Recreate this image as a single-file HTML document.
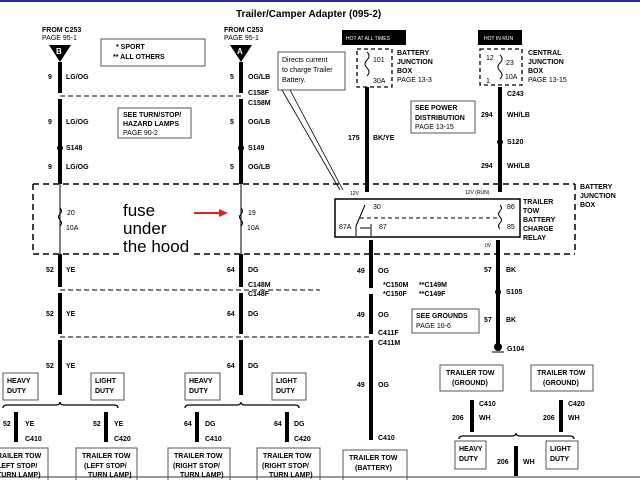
<!DOCTYPE html>
<html><head><meta charset="utf-8"><style>
html,body{margin:0;padding:0;background:#fff;}
svg{display:block;}
text{font-family:"Liberation Sans",Arial,sans-serif;fill:#000;}
.b{font-weight:bold;font-size:7px;}
.n{font-size:7px;}
.t{font-size:8px;}
</style></head><body>
<svg width="640" height="480" viewBox="0 0 640 480" xmlns="http://www.w3.org/2000/svg">
<rect width="640" height="480" fill="#fff"/>
<line x1="0" y1="1" x2="640" y2="1" stroke="#2a2a9a" stroke-width="2"/>
<line x1="0" y1="477" x2="640" y2="477" stroke="#999" stroke-width="2"/>
<text x="236" y="17" style="font-size:10px;font-weight:bold">Trailer/Camper Adapter (095-2)</text>

<text class="b" x="42" y="32">FROM C253</text><text class="n" x="42" y="40">PAGE 95-1</text>
<text class="b" x="224" y="32">FROM C253</text><text class="n" x="224" y="40">PAGE 95-1</text>
<polygon points="49,45 71,45 60,62" fill="#000"/><text x="56" y="54" style="font-size:8px;fill:#fff;font-weight:bold">B</text>
<polygon points="230,45 252,45 241,62" fill="#000"/><text x="237" y="54" style="font-size:8px;fill:#fff;font-weight:bold">A</text>

<rect x="101" y="39" width="104" height="27" fill="none" stroke="#555"/>
<text class="b" x="116" y="49">* SPORT</text><text class="b" x="113" y="59">** ALL OTHERS</text>
<rect x="118" y="108" width="73" height="30" fill="none" stroke="#555"/>
<text class="b" x="123" y="117">SEE TURN/STOP/</text><text class="b" x="123" y="126">HAZARD LAMPS</text><text class="n" x="123" y="135">PAGE 90-2</text>

<g stroke="#000" stroke-width="4">
<line x1="60" y1="62" x2="60" y2="93"/><line x1="60" y1="99" x2="60" y2="184"/>
<line x1="241" y1="62" x2="241" y2="93"/><line x1="241" y1="99" x2="241" y2="184"/>
</g>
<g stroke="#000" stroke-width="1">
<line x1="60" y1="184" x2="60" y2="254"/><line x1="241" y1="184" x2="241" y2="254"/>
</g>
<line x1="60" y1="96" x2="241" y2="96" stroke="#000" stroke-dasharray="5,3"/>
<circle cx="60" cy="148" r="3"/><circle cx="241" cy="148" r="3"/>
<text class="b" x="48" y="79">9</text><text class="b" x="66" y="79">LG/OG</text>
<text class="b" x="48" y="124">9</text><text class="b" x="66" y="124">LG/OG</text>
<text class="b" x="48" y="169">9</text><text class="b" x="66" y="169">LG/OG</text>
<text class="b" x="66" y="150">S148</text>
<text class="b" x="230" y="79">5</text><text class="b" x="248" y="79">OG/LB</text>
<text class="b" x="230" y="124">5</text><text class="b" x="248" y="124">OG/LB</text>
<text class="b" x="230" y="169">5</text><text class="b" x="248" y="169">OG/LB</text>
<text class="b" x="248" y="150">S149</text>
<text class="b" x="248" y="95">C158F</text><text class="b" x="248" y="105">C158M</text>
<path d="M60,208 q3,3 0,6 q-3,3 0,6 q3,3 0,6" fill="none" stroke="#000"/>
<path d="M241,208 q3,3 0,6 q-3,3 0,6 q3,3 0,6" fill="none" stroke="#000"/>
<text class="n" x="67" y="215">20</text><text class="n" x="66" y="230">10A</text>
<text class="n" x="248" y="215">19</text><text class="n" x="247" y="230">10A</text>
<text x="123" y="216" style="font-size:17px">fuse</text>
<text x="123" y="234" style="font-size:17px">under</text>
<text x="123" y="252" style="font-size:17px">the hood</text>
<line x1="194" y1="213" x2="222" y2="213" stroke="#e02020" stroke-width="2"/>
<polygon points="228,213 219,209 219,217" fill="#e02020"/>

<g stroke="#000" stroke-dasharray="6,4" stroke-width="1.5" fill="none">
<line x1="33" y1="184" x2="575" y2="184"/>
<line x1="33" y1="184" x2="33" y2="254"/>
<line x1="575" y1="184" x2="575" y2="254"/>
<line x1="33" y1="254" x2="120" y2="254"/>
<line x1="194" y1="254" x2="575" y2="254"/>
</g>
<text class="b" x="580" y="189">BATTERY</text><text class="b" x="580" y="198">JUNCTION</text><text class="b" x="580" y="207">BOX</text>

<rect x="342" y="30" width="64" height="15" fill="#000"/><text x="346" y="40" style="font-size:5px;fill:#fff">HOT AT ALL TIMES</text>
<rect x="478" y="30" width="44" height="15" fill="#000"/><text x="484" y="40" style="font-size:5px;fill:#fff">HOT IN RUN</text>
<rect x="357" y="49" width="35" height="38" fill="none" stroke="#000" stroke-dasharray="4,3" stroke-width="1.3"/>
<path d="M367,52 q4,4 0,8 q-4,4 0,8 q4,4 0,8" fill="none" stroke="#000"/>
<text class="n" x="373" y="62">101</text><text class="n" x="373" y="83">30A</text>
<text class="b" x="397" y="55">BATTERY</text><text class="b" x="397" y="64">JUNCTION</text><text class="b" x="397" y="73">BOX</text><text class="n" x="397" y="82">PAGE 13-3</text>
<rect x="480" y="49" width="42" height="36" fill="none" stroke="#000" stroke-dasharray="4,3" stroke-width="1.3"/>
<path d="M500,55 q4,4 0,8 q-4,4 0,8 q4,4 0,8" fill="none" stroke="#000"/>
<text class="n" x="486" y="60">12</text><text class="n" x="506" y="65">23</text><text class="n" x="505" y="79">10A</text><text class="n" x="486" y="83">1</text>
<text class="b" x="528" y="55">CENTRAL</text><text class="b" x="528" y="64">JUNCTION</text><text class="b" x="528" y="73">BOX</text><text class="n" x="528" y="82">PAGE 13-15</text>

<rect x="278" y="52" width="67" height="38" fill="none" stroke="#555"/>
<text class="n" x="282" y="62">Directs current</text><text class="n" x="282" y="72">to charge Trailer</text><text class="n" x="282" y="82">Battery.</text>
<line x1="282" y1="90" x2="340" y2="190" stroke="#000" stroke-width="0.8"/>
<line x1="290" y1="90" x2="343" y2="190" stroke="#000" stroke-width="0.8"/>

<rect x="411" y="101" width="64" height="32" fill="none" stroke="#555"/>
<text class="b" x="415" y="110">SEE POWER</text><text class="b" x="415" y="120">DISTRIBUTION</text><text class="n" x="415" y="129">PAGE 13-15</text>

<g stroke="#000" stroke-width="4">
<line x1="367" y1="87" x2="367" y2="192"/>
<line x1="500" y1="87" x2="500" y2="192"/>
<line x1="371" y1="240" x2="371" y2="288"/><line x1="371" y1="294" x2="371" y2="334"/><line x1="371" y1="340" x2="371" y2="440"/>
<line x1="498" y1="240" x2="498" y2="346"/>
</g>
<circle cx="500" cy="142" r="3"/>
<text class="b" x="348" y="140">175</text><text class="b" x="373" y="140">BK/YE</text>
<text class="b" x="507" y="96">C243</text>
<text class="b" x="481" y="117">294</text><text class="b" x="507" y="117">WH/LB</text>
<text class="b" x="507" y="144">S120</text>
<text class="b" x="481" y="168">294</text><text class="b" x="507" y="168">WH/LB</text>
<text x="350" y="195" style="font-size:5px">12V</text>
<text x="465" y="194" style="font-size:5px">12V (RUN)</text>

<rect x="335" y="199" width="185" height="38" fill="none" stroke="#000" stroke-width="1.5"/>
<line x1="360" y1="218" x2="500" y2="218" stroke="#000" stroke-dasharray="4,3"/>
<line x1="365" y1="205" x2="356" y2="226" stroke="#000"/>
<line x1="356" y1="226" x2="356" y2="236" stroke="#000"/>
<line x1="360" y1="228" x2="370" y2="228" stroke="#000"/>
<line x1="371" y1="224" x2="371" y2="236" stroke="#000"/>
<path d="M500,205 q3,3 0,6 q-3,3 0,6 q3,3 0,6 q-3,3 0,6" fill="none" stroke="#000"/>
<text class="n" x="373" y="209">30</text><text class="n" x="379" y="229">87</text><text class="n" x="339" y="229">87A</text>
<text class="n" x="507" y="209">86</text><text class="n" x="507" y="229">85</text>
<text x="485" y="247" style="font-size:5px">0V</text>
<text class="b" x="523" y="204">TRAILER</text><text class="b" x="523" y="213">TOW</text><text class="b" x="523" y="222">BATTERY</text><text class="b" x="523" y="231">CHARGE</text><text class="b" x="523" y="240">RELAY</text>

<g stroke="#000" stroke-width="4">
<line x1="60" y1="254" x2="60" y2="287"/><line x1="60" y1="293" x2="60" y2="334"/><line x1="60" y1="340" x2="60" y2="395"/>
<line x1="241" y1="254" x2="241" y2="287"/><line x1="241" y1="293" x2="241" y2="334"/><line x1="241" y1="340" x2="241" y2="395"/>
</g>
<g stroke="#000" stroke-dasharray="5,3">
<line x1="60" y1="290" x2="320" y2="290"/>
<line x1="60" y1="337" x2="371" y2="337"/>
</g>
<text class="b" x="46" y="272">52</text><text class="b" x="66" y="272">YE</text>
<text class="b" x="46" y="316">52</text><text class="b" x="66" y="316">YE</text>
<text class="b" x="46" y="368">52</text><text class="b" x="66" y="368">YE</text>
<text class="b" x="227" y="272">64</text><text class="b" x="248" y="272">DG</text>
<text class="b" x="227" y="316">64</text><text class="b" x="248" y="316">DG</text>
<text class="b" x="227" y="368">64</text><text class="b" x="248" y="368">DG</text>
<text class="b" x="248" y="287">C148M</text><text class="b" x="248" y="296">C148F</text>

<g fill="none" stroke="#555">
<rect x="3" y="373" width="35" height="27"/><rect x="91" y="373" width="33" height="27"/>
<rect x="185" y="373" width="35" height="27"/><rect x="272" y="373" width="34" height="27"/>
</g>
<text class="b" x="7" y="383">HEAVY</text><text class="b" x="7" y="393">DUTY</text>
<text class="b" x="95" y="383">LIGHT</text><text class="b" x="95" y="393">DUTY</text>
<text class="b" x="189" y="383">HEAVY</text><text class="b" x="189" y="393">DUTY</text>
<text class="b" x="276" y="383">LIGHT</text><text class="b" x="276" y="393">DUTY</text>
<g fill="none" stroke="#000" stroke-width="1.3">
<path d="M3,408 q0,-3 4,-3 h49 q4,0 4,-3 q0,3 4,3 h50 q4,0 4,3"/>
<path d="M185,408 q0,-3 4,-3 h48 q4,0 4,-3 q0,3 4,3 h50 q4,0 4,3"/>
<path d="M459,439 q0,-3 4,-3 h49 q4,0 4,-3 q0,3 4,3 h50 q4,0 4,3"/>
</g>
<g stroke="#000" stroke-width="4">
<line x1="16" y1="412" x2="16" y2="442"/><line x1="106" y1="412" x2="106" y2="442"/>
<line x1="197" y1="412" x2="197" y2="442"/><line x1="287" y1="412" x2="287" y2="442"/>
<line x1="472" y1="400" x2="472" y2="432"/><line x1="561" y1="400" x2="561" y2="432"/>
<line x1="516" y1="446" x2="516" y2="476"/>
</g>
<text class="b" x="3" y="426">52</text><text class="b" x="25" y="426">YE</text><text class="b" x="25" y="441">C410</text>
<text class="b" x="93" y="426">52</text><text class="b" x="114" y="426">YE</text><text class="b" x="114" y="441">C420</text>
<text class="b" x="184" y="426">64</text><text class="b" x="205" y="426">DG</text><text class="b" x="205" y="441">C410</text>
<text class="b" x="274" y="426">64</text><text class="b" x="294" y="426">DG</text><text class="b" x="294" y="441">C420</text>
<g fill="none" stroke="#555">
<rect x="-2" y="448" width="50" height="40"/><rect x="76" y="448" width="61" height="40"/>
<rect x="168" y="448" width="62" height="40"/><rect x="257" y="448" width="63" height="40"/>
<rect x="343" y="450" width="64" height="40"/>
</g>
<text class="b" x="-3" y="458">RAILER TOW</text><text class="b" x="-3" y="468">LEFT STOP/</text><text class="b" x="-3" y="477">TURN LAMP)</text>
<text class="b" x="82" y="458">TRAILER TOW</text><text class="b" x="84" y="468">(LEFT STOP/</text><text class="b" x="88" y="477">TURN LAMP)</text>
<text class="b" x="174" y="458">TRAILER TOW</text><text class="b" x="173" y="468">(RIGHT STOP/</text><text class="b" x="180" y="477">TURN LAMP)</text>
<text class="b" x="263" y="458">TRAILER TOW</text><text class="b" x="262" y="468">(RIGHT STOP/</text><text class="b" x="269" y="477">TURN LAMP)</text>
<text class="b" x="349" y="460">TRAILER TOW</text><text class="b" x="355" y="470">(BATTERY)</text>

<text class="b" x="357" y="273">49</text><text class="b" x="378" y="273">OG</text>
<text class="b" x="383" y="287">*C150M</text><text class="b" x="383" y="296">*C150F</text>
<text class="b" x="419" y="287">**C149M</text><text class="b" x="419" y="296">**C149F</text>
<text class="b" x="357" y="317">49</text><text class="b" x="378" y="317">OG</text>
<text class="b" x="378" y="335">C411F</text><text class="b" x="378" y="345">C411M</text>
<text class="b" x="357" y="387">49</text><text class="b" x="378" y="387">OG</text>
<text class="b" x="378" y="440">C410</text>
<rect x="412" y="309" width="67" height="24" fill="none" stroke="#555"/>
<text class="b" x="416" y="318">SEE GROUNDS</text><text class="n" x="416" y="328">PAGE 10-6</text>

<text class="b" x="484" y="272">57</text><text class="b" x="506" y="272">BK</text>
<circle cx="498" cy="292" r="3"/><text class="b" x="506" y="294">S105</text>
<text class="b" x="484" y="322">57</text><text class="b" x="506" y="322">BK</text>
<circle cx="498" cy="347" r="4"/><line x1="492" y1="352" x2="504" y2="352" stroke="#000"/>
<text class="b" x="507" y="351">G104</text>
<g fill="none" stroke="#555">
<rect x="440" y="365" width="63" height="26"/><rect x="531" y="365" width="62" height="26"/>
<rect x="455" y="441" width="31" height="28"/><rect x="546" y="441" width="32" height="28"/>
</g>
<text class="b" x="446" y="375">TRAILER TOW</text><text class="b" x="452" y="385">(GROUND)</text>
<text class="b" x="537" y="375">TRAILER TOW</text><text class="b" x="543" y="385">(GROUND)</text>
<text class="b" x="479" y="406">C410</text><text class="b" x="479" y="420">WH</text><text class="b" x="452" y="420">206</text>
<text class="b" x="568" y="406">C420</text><text class="b" x="568" y="420">WH</text><text class="b" x="543" y="420">206</text>
<text class="b" x="459" y="451">HEAVY</text><text class="b" x="459" y="461">DUTY</text>
<text class="b" x="550" y="451">LIGHT</text><text class="b" x="550" y="461">DUTY</text>
<text class="b" x="497" y="464">206</text><text class="b" x="523" y="464">WH</text>
</svg>
</body></html>
